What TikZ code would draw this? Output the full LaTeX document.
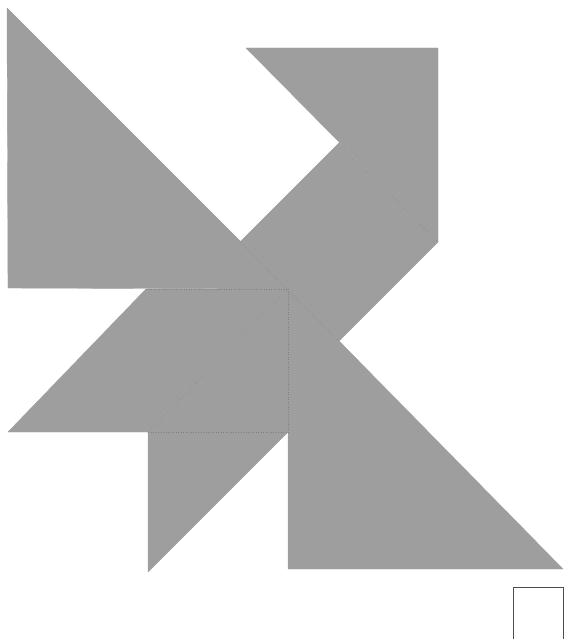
\documentclass[tikz,border=0pt]{standalone}
\begin{document}
\begin{tikzpicture}[x=1pt,y=-1pt,
  piece/.style={fill=tangram,draw=tangram,line width=0.4pt,line join=round},
  seam/.style={draw=seamgray,line width=0.5pt,dotted},
  refsq/.style={draw=black!70,line width=0.9pt}]
\definecolor{tangram}{RGB}{158,158,158}
\definecolor{seamgray}{RGB}{128,128,128}
\useasboundingbox (0,0) rectangle (564,639);
\clip (0,0) rectangle (564,639);
% vertices
\coordinate (A) at (7,8);
\coordinate (B) at (8,288);
\coordinate (C) at (288,289);
\coordinate (St) at (339,143);
\coordinate (Sr) at (438,242);
\coordinate (Sb) at (339,341);
\coordinate (Sl) at (240,242);
\coordinate (M1) at (246,48);
\coordinate (M2) at (438,48);
\coordinate (P1) at (8,432);
\coordinate (P2) at (148,432);
\coordinate (P4) at (146,289);
\coordinate (Q) at (288,432);
\coordinate (T) at (148,572);
\coordinate (R1) at (288,569);
\coordinate (R2) at (563,569);
% large triangle top-left
\fill[piece] (A) -- (B) -- (C) -- cycle;
% medium triangle
\fill[piece] (M1) -- (M2) -- (Sr) -- cycle;
% square
\fill[piece] (St) -- (Sr) -- (Sb) -- (Sl) -- cycle;
% parallelogram
\fill[piece] (P1) -- (P2) -- (C) -- (P4) -- cycle;
% small triangle 1
\fill[piece] (P2) -- (C) -- (Q) -- cycle;
% small triangle 2
\fill[piece] (P2) -- (Q) -- (T) -- cycle;
% large triangle bottom-right
\fill[piece] (C) -- (R1) -- (R2) -- cycle;
% seams between pieces
\draw[seam] (St) -- (Sr);
\draw[seam] (Sl) -- (Sb);
\draw[seam] (P4) -- (C);
\draw[seam] (P2) -- (C);
\draw[seam] (P2) -- (Q);
\draw[seam] (C) -- (Q);
% reference square
\coordinate (U1) at (513,587);
\coordinate (U2) at (563,645);
\draw[refsq] (U1) rectangle (U2);
\end{tikzpicture}
\end{document}
